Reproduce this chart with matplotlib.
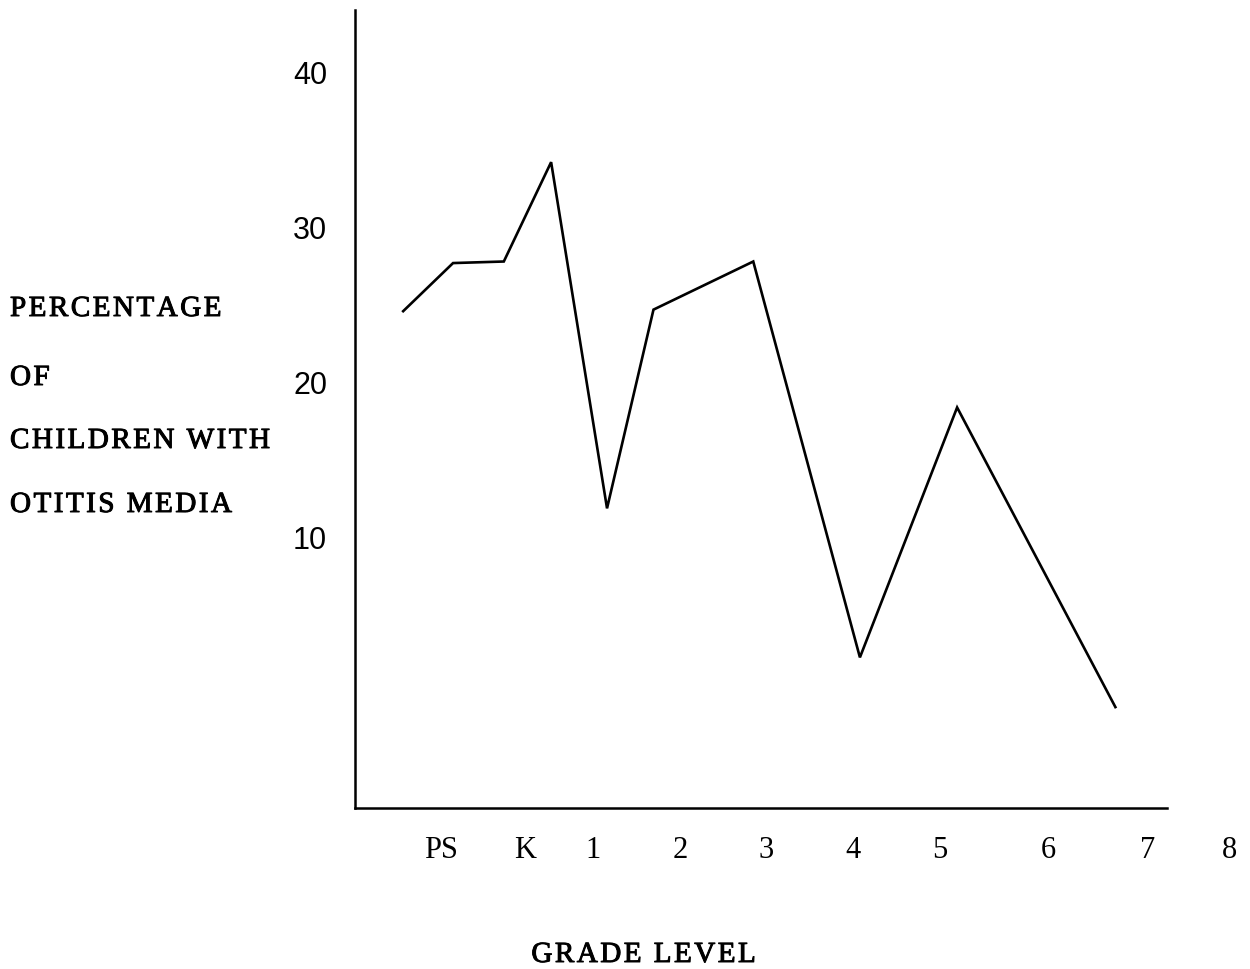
import matplotlib
matplotlib.use("Agg")
import matplotlib.pyplot as plt
import matplotlib.patheffects as pe

# grade positions along the axis (PS = 0)
grade_labels = ["PS", "K", "1", "2", "3", "4", "5", "6", "7", "8"]
grade_pos = [0.0, 0.98, 1.77, 2.78, 3.78, 4.79, 5.80, 7.06, 8.22, 9.17]

# line vertices (x in the same units, y in percent)
pts_x = [-0.44, 0.14, 0.73, 1.28, 1.93, 2.47, 3.63, 4.87, 6.0, 7.84]
pts_y = [24.6, 27.7, 27.8, 34.2, 11.9, 24.7, 27.8, 2.3, 18.4, -0.9]

y_ticks = [10, 20, 30, 40]
ylabel_lines = ["PERCENTAGE", "OF", "CHILDREN WITH", "OTITIS MEDIA"]
xlabel = "GRADE LEVEL"


def spaced(s):
    # typewriter-ish letter spacing with hair spaces
    return "\u200a".join(s)


W, H = 1250, 969
fig = plt.figure(figsize=(W / 100, H / 100), dpi=100)
ax = fig.add_axes([355 / W, 1 - 808 / H, (1167 - 355) / W, (808 - 10) / H])

ax.plot(pts_x, pts_y, color="black", lw=1.9, solid_joinstyle="miter")
ax.set_xlim(-1.0, 8.44)
ax.set_ylim(-7.4, 44.0)

for s in ["top", "right"]:
    ax.spines[s].set_visible(False)
for s in ["left", "bottom"]:
    ax.spines[s].set_linewidth(1.8)

ax.set_yticks(y_ticks)
ax.set_yticklabels([str(v) for v in y_ticks], family="Liberation Sans", fontsize=22)
ax.tick_params(axis="y", length=0, pad=20)

ax.set_xticks([])
# tick labels drawn as annotations so the last one ("8") can sit past the axis end
for lab, xp in zip(grade_labels, grade_pos):
    ax.annotate(lab, xy=(xp, 0), xycoords=("data", "axes fraction"),
                xytext=(0, -20), textcoords="offset points",
                family="Liberation Serif", fontsize=22,
                ha="center", va="top", annotation_clip=False)

heavy = [pe.withStroke(linewidth=0.7, foreground="black")]
fam = ["Liberation Serif", "DejaVu Serif", "DejaVu Sans"]
ylab_y = [309, 378, 441, 505]
for txt, yp in zip(ylabel_lines, ylab_y):
    fig.text(10 / W, 1 - yp / H, spaced(txt), family=fam, fontsize=21,
             ha="left", va="center", path_effects=heavy)

fig.text(643 / W, 1 - 955 / H, spaced(xlabel), family=fam, fontsize=21,
         ha="center", va="center", path_effects=heavy)

fig.savefig("out.png", dpi=100)
